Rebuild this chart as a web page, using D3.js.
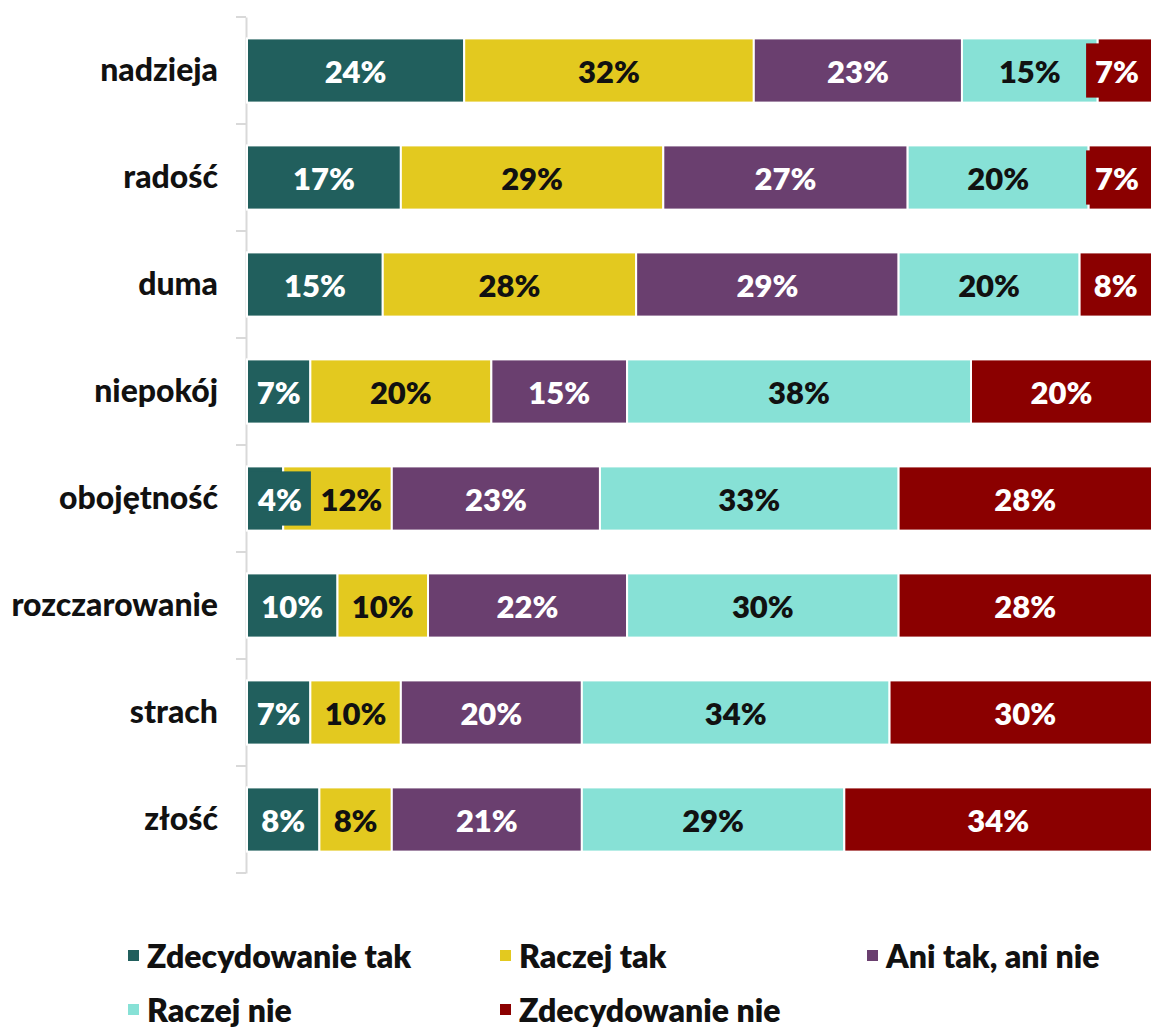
<!DOCTYPE html>
<html>
<head>
<meta charset="utf-8">
<script src="https://cdn.jsdelivr.net/npm/d3@7"></script>
<style>
  html, body { margin: 0; padding: 0; background: #ffffff; }
  svg { display: block; }
  text { font-family: Lato, "Open Sans", "DejaVu Sans", sans-serif; font-weight: 700; }
</style>
</head>
<body>
<svg id="chart" width="1151" height="1032"></svg>
<script>
// ---- data ----
const categories = ["nadzieja", "radość", "duma", "niepokój", "obojętność", "rozczarowanie", "strach", "złość"];
const seriesNames = ["Zdecydowanie tak", "Raczej tak", "Ani tak, ani nie", "Raczej nie", "Zdecydowanie nie"];
const zdecydowanieTak = [24, 17, 15, 7, 4, 10, 7, 8];
const raczejTak       = [32, 29, 28, 20, 12, 10, 10, 8];
const aniTakAniNie    = [23, 27, 29, 15, 23, 22, 20, 21];
const raczejNie       = [15, 20, 20, 38, 33, 30, 34, 29];
const zdecydowanieNie = [7, 7, 8, 20, 28, 28, 30, 34];
const seriesColors = ["#215f5d", "#e3c91f", "#6a3f6f", "#87e1d6", "#8b0000"];
const labelColors  = ["#ffffff", "#111111", "#ffffff", "#111111", "#ffffff"];

const seriesValues = [zdecydowanieTak, raczejTak, aniTakAniNie, raczejNie, zdecydowanieNie];

// ---- layout ----
const W = 1151, H = 1032;
const svg = d3.select("#chart");

const rows = categories.map((c, i) => {
  const r = { category: c };
  seriesNames.forEach((s, j) => { r[s] = seriesValues[j][i]; });
  return r;
});
const stacked = d3.stack().keys(seriesNames)(rows);

const x = d3.scaleLinear().domain([0, 100]).range([247, 1152]);
const y = d3.scaleBand().domain(categories).range([17, 873]).paddingInner(0.4).paddingOuter(0.2);

// axis
const axis = d3.axisLeft(y).tickSize(0).tickPadding(28).tickFormat(d => d);
const gAxis = svg.append("g").attr("transform", "translate(246,0)").call(axis);
gAxis.select(".domain").attr("stroke", "#d9d9d9").attr("stroke-width", 2);
gAxis.selectAll(".tick text").attr("font-size", 32).attr("fill", "#111")
  .style("font-weight", 900)
  .style("font-family", "Lato, 'Open Sans', sans-serif");
// boundary ticks between categories
const boundaries = d3.range(categories.length + 1).map(i => y.range()[0] + i * y.step());
svg.append("g").selectAll("line").data(boundaries).join("line")
  .attr("x1", 236).attr("x2", 246).attr("y1", d => d).attr("y2", d => d)
  .attr("stroke", "#d9d9d9").attr("stroke-width", 2);

// bars
const gBars = svg.append("g");
stacked.forEach((layer, si) => {
  gBars.append("g").selectAll("rect").data(layer).join("rect")
    .attr("x", d => x(d[0]))
    .attr("y", d => y(d.data.category))
    .attr("width", d => x(d[1]) - x(d[0]))
    .attr("height", y.bandwidth())
    .attr("fill", seriesColors[si])
    .attr("stroke", "#ffffff").attr("stroke-width", 2);
});

// labels
const gLab = svg.append("g");
const pad = 9;
const boxRight = {}; // right edge of an overflowing label box per category
stacked.forEach((layer, si) => {
  layer.forEach(d => {
    const cat = d.data.category;
    const x0 = x(d[0]), x1 = x(d[1]);
    const cy = y(cat) + y.bandwidth() / 2;
    const g = gLab.append("g");
    const t = g.append("text")
      .attr("font-size", 31)
      .style("font-weight", 800)
      .attr("fill", labelColors[si])
      .attr("text-anchor", "middle")
      .attr("dominant-baseline", "central")
      .attr("y", cy)
      .text((d[1] - d[0]) + "%");
    const tw = t.node().getComputedTextLength();
    const start = Math.max(x0, boxRight[cat] || x0);
    let cx = (start + x1) / 2;
    if (tw + 2 * pad > x1 - x0) { cx = x0 + tw / 2 + pad + 2; }
    if (cx + tw / 2 > W - 12) { cx = W - 12 - tw / 2; }
    t.attr("x", cx);
    const bx = cx - tw / 2 - pad, bw = tw + 2 * pad + (si === 4 ? 20 : 0);
    const overflows = bx < x0 - 12 || bx + bw > Math.min(x1, W) + 4;
    if (overflows) {
      g.insert("rect", "text")
        .attr("x", bx).attr("width", bw)
        .attr("y", cy - y.bandwidth() / 2 + 5).attr("height", y.bandwidth() - 10)
        .attr("fill", seriesColors[si]);
      boxRight[cat] = bx + bw;
    }
  });
});

// legend
const legendPos = [
  { x: 128, y: 955 }, { x: 500, y: 955 }, { x: 867, y: 955 },
  { x: 128, y: 1009 }, { x: 500, y: 1009 }
];
const gLeg = svg.append("g");
seriesNames.forEach((s, i) => {
  const p = legendPos[i];
  gLeg.append("rect").attr("x", p.x).attr("y", p.y - 5).attr("width", 11).attr("height", 11)
    .attr("fill", seriesColors[i]);
  gLeg.append("text").attr("x", p.x + 19).attr("y", p.y)
    .attr("dominant-baseline", "central")
    .style("font-weight", 800)
    .attr("font-size", 32).attr("fill", "#111").text(s);
});
</script>
</body>
</html>
